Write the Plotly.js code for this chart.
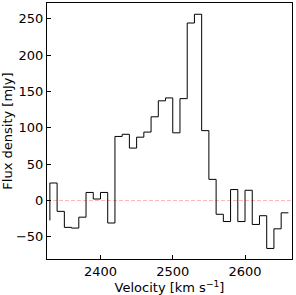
<!DOCTYPE html>
<html>
<head>
<meta charset="utf-8">
<script src="https://cdn.plot.ly/plotly-3.0.1.min.js"></script>
<style>html,body{margin:0;padding:0;background:#fff;}#chart{width:296px;height:295px;}</style>
</head>
<body>
<div id="chart"></div>
<script>
// Velocity channels (km/s) and flux density (mJy), drawn as a pre-step line
const velocity = [2330, 2340, 2350, 2360, 2370, 2380, 2390, 2400, 2410, 2420,
                  2430, 2440, 2450, 2460, 2470, 2480, 2490, 2500, 2510, 2520,
                  2530, 2540, 2550, 2560, 2570, 2580, 2590, 2600, 2610, 2620,
                  2630, 2640, 2650, 2660];
const flux = [-27.5, 24, -15, -37, -38, -23, 11, 2, 11, -31,
              88, 91, 72, 87, 94, 115, 137, 141, 93, 140,
              244, 256, 96, 29, -19, -29, 15, -29, 14, -33,
              -21, -66, -39, -17];
const xTicks = [2400, 2500, 2600];
const yTicks = [-50, 0, 50, 100, 150, 200, 250];
const baseline = 0;

const font = {family: 'DejaVu Sans, sans-serif', size: 13, color: '#000'};

const trace = {
  x: velocity, y: flux, type: 'scatter', mode: 'lines',
  line: {shape: 'vh', color: '#000', width: 1},
  hoverinfo: 'skip'
};

const layout = {
  width: 296, height: 295,
  margin: {l: 47, r: 4, t: 3, b: 36},
  paper_bgcolor: '#fff', plot_bgcolor: '#fff',
  showlegend: false,
  font: font,
  xaxis: {
    range: [2326, 2665], tickvals: xTicks, ticktext: xTicks.map(String),
    ticks: 'inside', ticklen: 4, tickwidth: 1, tickcolor: '#000',
    showgrid: false, zeroline: false,
    showline: true, linecolor: '#000', linewidth: 1, mirror: true,
    tickfont: font,
    title: {text: 'Velocity [km s<sup>−1</sup>]', font: font, standoff: 3}
  },
  yaxis: {
    range: [-80.5, 271.5], tickvals: yTicks, ticktext: yTicks.map(v => v < 0 ? '−' + Math.abs(v) : String(v)),
    ticks: 'inside', ticklen: 4, tickwidth: 1, tickcolor: '#000',
    showgrid: false, zeroline: false,
    showline: true, linecolor: '#000', linewidth: 1, mirror: true,
    tickfont: font,
    title: {text: 'Flux density [mJy]', font: font, standoff: 3}
  },
  shapes: [{
    type: 'line', xref: 'paper', yref: 'y', x0: 0, x1: 1, y0: baseline, y1: baseline,
    line: {color: 'rgba(255,0,0,0.3)', width: 1, dash: '4px,2px'}, layer: 'below'
  }]
};

Plotly.newPlot('chart', [trace], layout, {staticPlot: true, displayModeBar: false});
</script>
</body>
</html>
